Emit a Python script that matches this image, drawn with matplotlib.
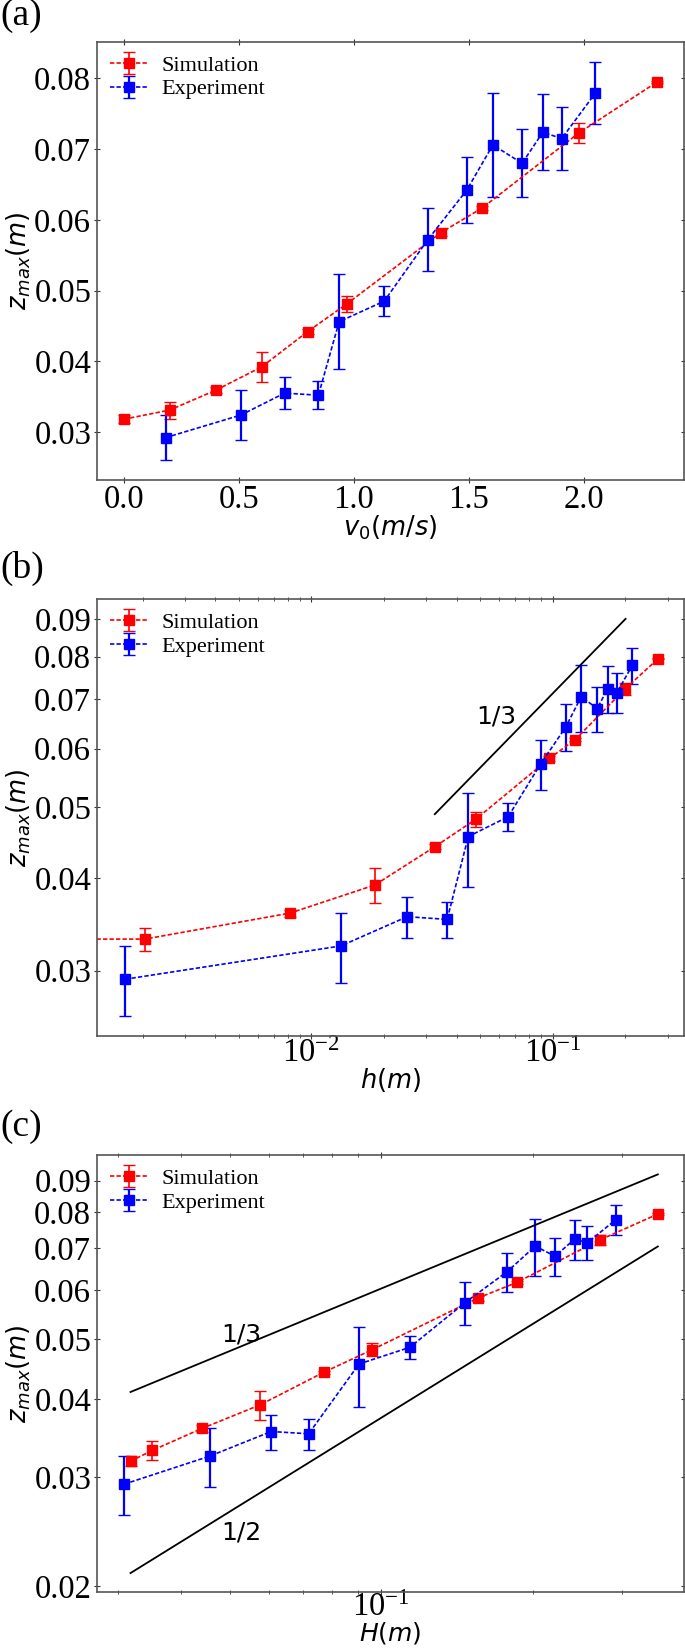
import matplotlib
matplotlib.use("Agg")
import matplotlib.pyplot as plt
from matplotlib.ticker import FixedLocator, NullFormatter, LogLocator, FormatStrFormatter

# Simulation data (v0, h = v0^2/2g, H = h + z_max)
v0_sim = [0.0, 0.20, 0.40, 0.60, 0.80, 0.97, 1.38, 1.56, 1.98, 2.32]
h_sim = [0.0, 0.00204, 0.00816, 0.01835, 0.03262, 0.04796, 0.09706, 0.1240, 0.1998, 0.2743]
H_sim = [0.0318, 0.03514, 0.04406, 0.05755, 0.07682, 0.09606, 0.15526, 0.1857, 0.2721, 0.3538]
z_sim = [0.0318, 0.0331, 0.0359, 0.0392, 0.0442, 0.0481, 0.0582, 0.0617, 0.0723, 0.0795]
zerr_sim = [0.0006, 0.0012, 0.0004, 0.0021, 0.0003, 0.0011, 0.0005, 0.0003, 0.0014, 0.0002]

# Experiment data
v0_exp = [0.182, 0.51, 0.70, 0.847, 0.937, 1.133, 1.323, 1.492, 1.606, 1.733, 1.823, 1.905, 2.051]
h_exp = [0.00169, 0.01326, 0.02497, 0.03657, 0.04475, 0.06543, 0.08921, 0.1135, 0.1315,
         0.1531, 0.1694, 0.1850, 0.2144]
H_exp = [0.03089, 0.04566, 0.06047, 0.07177, 0.09035, 0.11393, 0.14641, 0.1777, 0.2021,
         0.2211, 0.2418, 0.2565, 0.2923]
z_exp = [0.0292, 0.0324, 0.0355, 0.0352, 0.0456, 0.0485, 0.0572, 0.0642, 0.0706, 0.0680,
         0.0724, 0.0715, 0.0779]
zerr_exp = [0.0032, 0.0035, 0.0023, 0.0020, 0.0067, 0.0021, 0.0045, 0.0047, 0.0074, 0.0048,
            0.0054, 0.0045, 0.0044]

# guide lines (slopes 1/3 and 1/2)
guide_b_h = [0.0325, 0.2008]
guide_b_z = [0.0489, 0.0900]
guide_c_H = [0.0318, 0.3538]
guide_c_z13 = [0.0411, 0.0921]
guide_c_z12 = [0.0210, 0.0705]

yticks_b = [0.03, 0.04, 0.05, 0.06, 0.07, 0.08, 0.09]
yticks_c = [0.02, 0.03, 0.04, 0.05, 0.06, 0.07, 0.08, 0.09]

plt.rcParams['font.family'] = ['Liberation Serif', 'DejaVu Sans']
plt.rcParams['mathtext.fontset'] = 'dejavusans'

fig = plt.figure(figsize=(6.85, 16.48), dpi=100)

dash = (0, (2.6, 1.3))


def draw(ax, x_sim, x_exp):
    ax.errorbar(x_sim, z_sim, yerr=zerr_sim, fmt='s', color='red', ls=dash, lw=1.2,
                ms=7.5, capsize=4, elinewidth=1.2, label='Simulation')
    ax.errorbar(x_exp, z_exp, yerr=zerr_exp, fmt='s', color='blue', ls=dash, lw=1.2,
                ms=7.5, capsize=4, elinewidth=1.6, label='Experiment')
    ax.legend(loc='upper left', frameon=False, fontsize=16, borderaxespad=0.2,
              handlelength=1.7, handletextpad=0.6, labelspacing=0.15)
    ax.tick_params(which='both', direction='inout', top=True, right=True,
                   labelsize=23.5, colors='#333333', labelcolor='black')
    ax.tick_params(which='major', length=5, width=0.8)
    ax.tick_params(which='minor', length=3, width=0.6)
    ax.tick_params(axis='y', which='both', pad=1.5)
    ax.tick_params(axis='x', which='both', pad=0.5)
    for s in ax.spines.values():
        s.set_color('#555555')
        s.set_linewidth(1.2)
    ax.set_ylabel(r'$z_{max}(m)$', fontsize=18.5, va='center')
    ax.yaxis.set_label_coords(-0.1325, 0.5)


# (a)
ax1 = fig.add_axes([0.1413, 0.7087, 0.8572, 0.2660])
draw(ax1, v0_sim, v0_exp)
ax1.set_xlim(-0.117, 2.437)
ax1.set_ylim(0.0232, 0.0852)
ax1.set_xticks([0.0, 0.5, 1.0, 1.5, 2.0])
ax1.set_yticks([0.03, 0.04, 0.05, 0.06, 0.07, 0.08])
ax1.set_xlabel(r'$v_0(m/s)$', fontsize=18.5, va='center')
ax1.xaxis.set_label_coords(0.5, -0.1085)

# (b)
ax2 = fig.add_axes([0.1413, 0.3714, 0.8572, 0.2650])
ax2.set_xscale('log')
ax2.set_yscale('log')
draw(ax2, h_sim, h_exp)
ax2.plot(guide_b_h, guide_b_z, color='black', lw=1.3)
ax2.text(0.0582, 0.0663, '1/3', fontsize=18, family='DejaVu Sans', ha='center', va='center')
ax2.set_xlim(0.00129, 0.3507)
ax2.set_ylim(0.02446, 0.0957)
ax2.yaxis.set_major_locator(FixedLocator(yticks_b))
ax2.yaxis.set_major_formatter(FormatStrFormatter('%.2f'))
ax2.yaxis.set_minor_locator(FixedLocator([]))
ax2.yaxis.set_minor_formatter(NullFormatter())
ax2.xaxis.set_major_locator(LogLocator(base=10))
ax2.xaxis.set_minor_locator(LogLocator(base=10, subs=range(2, 10)))
ax2.xaxis.set_minor_formatter(NullFormatter())
ax2.tick_params(axis='x', which='both', pad=-1)
ax2.set_xlabel(r'$h(m)$', fontsize=18.5, va='center')
ax2.xaxis.set_label_coords(0.5, -0.1)

# (c)
ax3 = fig.add_axes([0.1413, 0.0340, 0.8572, 0.2652])
ax3.set_xscale('log')
ax3.set_yscale('log')
draw(ax3, H_sim, H_exp)
ax3.plot(guide_c_H, guide_c_z13, color='black', lw=1.3)
ax3.plot(guide_c_H, guide_c_z12, color='black', lw=1.3)
ax3.text(0.0528, 0.0509, '1/3', fontsize=18, family='DejaVu Sans', ha='center', va='center')
ax3.text(0.0528, 0.0244, '1/2', fontsize=18, family='DejaVu Sans', ha='center', va='center')
ax3.set_xlim(0.02726, 0.3987)
ax3.set_ylim(0.01958, 0.0990)
ax3.yaxis.set_major_locator(FixedLocator(yticks_c))
ax3.yaxis.set_major_formatter(FormatStrFormatter('%.2f'))
ax3.yaxis.set_minor_locator(FixedLocator([]))
ax3.yaxis.set_minor_formatter(NullFormatter())
ax3.xaxis.set_major_locator(LogLocator(base=10))
ax3.xaxis.set_minor_locator(LogLocator(base=10, subs=range(2, 10)))
ax3.xaxis.set_minor_formatter(NullFormatter())
ax3.tick_params(axis='x', which='both', pad=-2)
ax3.set_xlabel(r'$H(m)$', fontsize=18, va='center')
ax3.xaxis.set_label_coords(0.5, -0.0945)

# panel labels
fig.text(0.0, 1 - 16 / 1648, '(a)', fontsize=27, ha='left', va='center')
fig.text(0.0, 1 - 568 / 1648, '(b)', fontsize=27, ha='left', va='center')
fig.text(0.0, 1 - 1127 / 1648, '(c)', fontsize=27, ha='left', va='center')

fig.savefig('out.png', dpi=100)
